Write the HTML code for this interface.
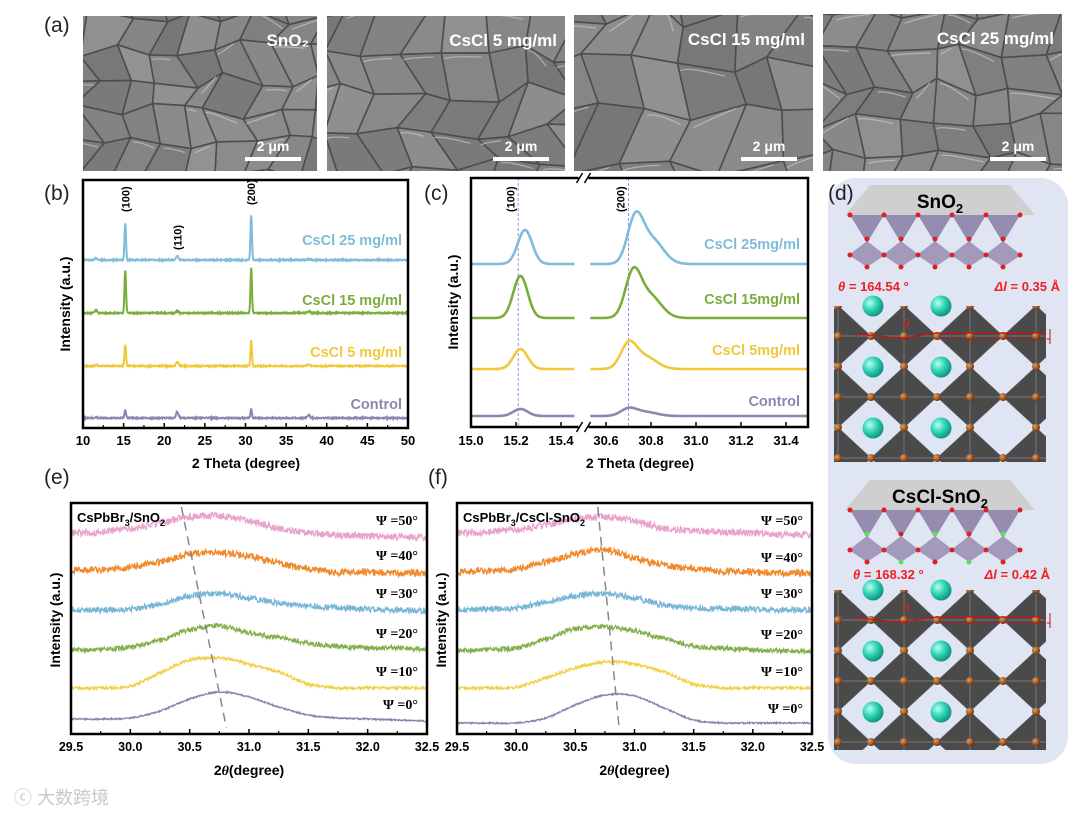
<!DOCTYPE html>
<html><head><meta charset="utf-8">
<style>
body{margin:0;background:#fff;}
svg{display:block;font-family:"Liberation Sans",Arial,sans-serif;}
</style></head>
<body>
<svg id="fig" width="1080" height="816" viewBox="0 0 1080 816" xmlns="http://www.w3.org/2000/svg">
<defs>
<radialGradient id="cs" cx="0.35" cy="0.35" r="0.7"><stop offset="0" stop-color="#b8fff0"/><stop offset="0.5" stop-color="#2fd3b4"/><stop offset="1" stop-color="#0c8f78"/></radialGradient>
<radialGradient id="br" cx="0.35" cy="0.35" r="0.7"><stop offset="0" stop-color="#e0a060"/><stop offset="1" stop-color="#6b3008"/></radialGradient>
<linearGradient id="sem" x1="0" y1="0" x2="1" y2="1"><stop offset="0" stop-color="#8e8e8e"/><stop offset="1" stop-color="#7a7a7a"/></linearGradient>
</defs>
<g id="semg"></g>
<g id="plots"></g>
<g id="panelD"></g>
<text x="14" y="804" fill="#c8c8c8" font-size="18" font-family="'Liberation Sans','Noto Sans CJK SC',sans-serif">ⓒ 大数跨境</text>
</svg>
<script>
// ===== Panel (b) data =====
const bPeakPos = [15.2, 21.6, 30.7, 37.8, 11.6];
const bBlue = [37, 4, 45, 1, 2];
const bGreen = [43, 2, 45, 2, 3];
const bYellow = [21, 4, 26, 2, 1];
const bControl = [8, 6, 9, 3, 1];
const bLabels = ["CsCl 25 mg/ml","CsCl 15 mg/ml","CsCl 5 mg/ml","Control"];
const bXTicks = [10,15,20,25,30,35,40,45,50];
// ===== Panel (c) data =====
const cLeftCenter = [15.24, 15.22, 15.22, 15.22];
const cLeftHeight = [34, 42, 20, 7];
const cRightCenter = [30.73, 30.72, 30.70, 30.70];
const cRightHeight = [44, 43, 24, 7];
const cShoulderHeight = [24, 22, 12, 4];
const cLabels = ["CsCl 25mg/ml","CsCl 15mg/ml","CsCl 5mg/ml","Control"];
const cLeftTicks = [15.0,15.2,15.4];
const cRightTicks = [30.6,30.8,31.0,31.2,31.4];
// ===== Panels (e),(f) data: intensity at 0.25° steps 29.5..32.5 =====
const psiX = [29.5,29.75,30.0,30.25,30.5,30.75,31.0,31.25,31.5,31.75,32.0,32.25,32.5];
const psiLabels = ["Ψ =50°","Ψ =40°","Ψ =30°","Ψ =20°","Ψ =10°","Ψ =0°"];
const e50 = [0,1,4,10,16,17,12,5,0,-2,-3,-4,-5];
const e40 = [0,0,3,8,16,17,14,7,1,-2,-2,-3,-3];
const e30 = [0,0,1,6,14,16,12,7,4,2,1,0,-1];
const e20 = [0,1,3,10,20,24,17,12,7,4,2,2,1];
const e10 = [0,0,2,15,28,30,24,16,4,0,0,0,0];
const e0 = [0,0,1,8,20,27,22,12,4,1,0,-1,-2];
const f50 = [0,1,3,8,14,16,12,5,2,1,0,-2,-2];
const f40 = [0,1,3,10,18,22,14,7,3,1,0,-1,-1];
const f30 = [0,1,2,8,14,16,12,5,2,1,1,0,0];
const f20 = [0,2,3,12,22,24,20,12,5,3,1,0,0];
const f10 = [0,0,1,10,20,26,24,16,4,0,0,0,0];
const f0 = [0,0,0,5,18,28,27,15,3,0,0,0,0];
const psiTicks = [29.5,30.0,30.5,31.0,31.5,32.0,32.5];
const eShiftLine = [30.43, 30.81];
const fShiftLine = [30.69, 30.87];

const NS="http://www.w3.org/2000/svg";
function mk(tag, attrs, parent){const e=document.createElementNS(NS,tag);for(const k in attrs)e.setAttribute(k,attrs[k]);(parent||document.getElementById('plots')).appendChild(e);return e;}
function txt(x,y,s,attrs,parent){const t=mk('text',Object.assign({x:x,y:y},attrs||{}),parent);t.textContent=s;return t;}
// deterministic texture jitter (visual only)
function hash(i){let x=Math.sin(i*127.1+311.7)*43758.5453;return x-Math.floor(x);}

const cols=["#7fbcd8","#7aad3c","#f0c93a","#8a87b0"];
const psiCols=["#e9a2c9","#f0892a","#77b6d6","#7fb04a","#f2cf45","#8580ab"];

// ---------- SEM images ----------
const semG=document.getElementById('semg');
const semBoxes=[[83,16,234,155,"SnO₂",32],[327,16,238,155,"CsCl 5 mg/ml",38],[574,15,239,156,"CsCl 15 mg/ml",50],[823,14,239,157,"CsCl 25 mg/ml",36]];
semBoxes.forEach((b,k)=>{
  const g=mk('g',{},semG);
  
  
  const cid='clip'+k;
  const cp=mk('clipPath',{id:cid},g);mk('rect',{x:b[0],y:b[1],width:b[2],height:b[3]},cp);
  mk('rect',{x:b[0],y:b[1],width:b[2],height:b[3],fill:'#858585'},g);
  const gg=mk('g',{'clip-path':'url(#'+cid+')'},g);
  const s=b[5];const pts=[];
  const nx=Math.ceil(b[2]/s)+3, ny=Math.ceil(b[3]/s)+3;
  for(let i=0;i<nx;i++){pts[i]=[];for(let j=0;j<ny;j++){const o=(j%2)*s*0.4;pts[i][j]=[b[0]-s+i*s+o+(hash(k*1000+i*31+j)-0.5)*s*0.55,b[1]-s+j*s+(hash(k*1000+i*17+j*7+5)-0.5)*s*0.55];}}
  for(let i=0;i<nx-1;i++)for(let j=0;j<ny-1;j++){
    const a=pts[i][j],b2=pts[i+1][j],e=pts[i+1][j+1],c=pts[i][j+1];
    const sh=Math.round(118+hash(k*333+i*7+j*11)*28);
    mk('polygon',{points:`${a[0]},${a[1]} ${b2[0]},${b2[1]} ${e[0]},${e[1]} ${c[0]},${c[1]}`,fill:`rgb(${sh},${sh},${sh})`,stroke:'#4d4d4d','stroke-width':1.6,'stroke-linejoin':'round'},gg);
    if(hash(k*77+i*13+j*3)>0.55){mk('path',{d:`M${a[0]+3},${a[1]+s*0.15} Q${a[0]+s*0.2},${a[1]+3} ${b2[0]-s*0.2},${b2[1]+4}`,stroke:'#cfcfcf','stroke-width':1.3,fill:'none',opacity:0.6},gg);}
  }
  const lab=txt(b[0]+b[2]-8,b[1]+30,b[4],{'text-anchor':'end','font-size':17,'font-weight':'bold',fill:'#fff'},g);
  
  
  mk('rect',{x:b[0]+b[2]-72,y:b[1]+b[3]-14,width:56,height:4,fill:'#fff'},g);
  txt(b[0]+b[2]-44,b[1]+b[3]-20,"2 μm",{'text-anchor':'middle','font-size':14,'font-weight':'bold',fill:'#fff'},g);
});
txt(44,32,"(a)",{'font-size':21,fill:'#222'});

function frame(x0,y0,x1,y1){mk('rect',{x:x0,y:y0,width:x1-x0,height:y1-y0,fill:'none',stroke:'#000','stroke-width':2.5});}

// ---------- Panel (b) ----------
(function(){
  const X0=83,X1=408,Y0=180,Y1=428;
  const sx=v=>X0+(v-10)/40*(X1-X0);
  const base=[260,313,366,418];
  const series=[bBlue,bGreen,bYellow,bControl];
  series.forEach((h,si)=>{
    let d='';
    for(let v=10;v<=50.001;v+=0.05){
      let y=0;bPeakPos.forEach((p,pi)=>{const s=pi==0||pi==2?0.09:0.14;y+=h[pi]*Math.exp(-((v-p)**2)/(2*s*s));});
      y+=(hash(si*5000+Math.round(v*20))-0.5)*1.2;
      d+=(d?'L':'M')+sx(v).toFixed(1)+','+(base[si]-y).toFixed(1);
    }
    const p=mk('path',{d:d,fill:'none',stroke:cols[si],'stroke-width':2});
    
    
    const t=txt(402,base[si]-[15,8,9,9][si],bLabels[si],{'text-anchor':'end','font-size':14.5,'font-weight':'bold',fill:cols[si]});
    
    
  });
  frame(X0,Y0,X1,Y1);
  bXTicks.forEach(v=>{mk('line',{x1:sx(v),x2:sx(v),y1:Y1,y2:Y1-5,stroke:'#000','stroke-width':1.5});txt(sx(v),445,String(v),{'text-anchor':'middle','font-size':13,'font-weight':'bold'});
    if(v<50)mk('line',{x1:sx(v+2.5),x2:sx(v+2.5),y1:Y1,y2:Y1-3,stroke:'#000','stroke-width':1.2});});
  const hk=[["(100)",15.2,212],["(110)",21.6,250],["(200)",30.7,205]];
  hk.forEach(h=>txt(0,0,h[0],{'font-size':11,'font-weight':'bold',transform:`translate(${sx(h[1])+4},${h[2]}) rotate(-90)`}));
  txt(246,468,"2 Theta (degree)",{'text-anchor':'middle','font-size':14,'font-weight':'bold'});
  txt(0,0,"Intensity (a.u.)",{'text-anchor':'middle','font-size':14,'font-weight':'bold',transform:'translate(70,304) rotate(-90)'});
  txt(44,200,"(b)",{'font-size':21,fill:'#222'});
})();

// ---------- Panel (c) ----------
(function(){
  const X0=471,X1=808,Y0=178,Y1=427,BR=583.5,K=225;
  const sxL=v=>X0+(v-15.0)*K, sxR=v=>BR+(v-30.5)*K;
  const base=[264,318,369,416];
  mk('line',{x1:sxL(15.21),x2:sxL(15.21),y1:Y0,y2:Y1,stroke:'#9b8df0','stroke-width':1,'stroke-dasharray':'3,2'});
  mk('line',{x1:sxR(30.70),x2:sxR(30.70),y1:Y0,y2:Y1,stroke:'#9b8df0','stroke-width':1,'stroke-dasharray':'3,2'});
  for(let si=0;si<4;si++){
    let d='';
    for(let v=15.0;v<=15.46;v+=0.004){const s=0.032;const y=cLeftHeight[si]*Math.exp(-((v-cLeftCenter[si])**2)/(2*s*s));d+=(d?'L':'M')+sxL(v).toFixed(1)+','+(base[si]-y).toFixed(1);}
    let d2='';
    for(let v=30.53;v<=31.5;v+=0.004){const y=cRightHeight[si]*Math.exp(-((v-cRightCenter[si])**2)/(2*0.035*0.035))+cShoulderHeight[si]*Math.exp(-((v-(cRightCenter[si]+0.075))**2)/(2*0.05*0.05));d2+=(d2?'L':'M')+sxR(v).toFixed(1)+','+(base[si]-y).toFixed(1);}
    const p=mk('path',{d:d+d2,fill:'none',stroke:cols[si],'stroke-width':2.6});
    
    
    const t=txt(800,base[si]-[15,14,14,10][si],cLabels[si],{'text-anchor':'end','font-size':14.5,'font-weight':'bold',fill:cols[si]});
    
    
  }
  frame(X0,Y0,X1,Y1);
  mk('rect',{x:BR-5,y:Y0-3,width:10,height:6,fill:'#fff'});mk('rect',{x:BR-5,y:Y1-3,width:10,height:6,fill:'#fff'});
  [Y0,Y1].forEach(y=>{mk('line',{x1:BR-7,y1:y+5,x2:BR-1,y2:y-5,stroke:'#000','stroke-width':1.5});mk('line',{x1:BR+1,y1:y+5,x2:BR+7,y2:y-5,stroke:'#000','stroke-width':1.5});});
  cLeftTicks.forEach(v=>{mk('line',{x1:sxL(v),x2:sxL(v),y1:Y1,y2:Y1-5,stroke:'#000','stroke-width':1.5});txt(sxL(v),445,v.toFixed(1),{'text-anchor':'middle','font-size':13,'font-weight':'bold'});});
  cRightTicks.forEach(v=>{mk('line',{x1:sxR(v),x2:sxR(v),y1:Y1,y2:Y1-5,stroke:'#000','stroke-width':1.5});txt(sxR(v),445,v.toFixed(1),{'text-anchor':'middle','font-size':13,'font-weight':'bold'});});
  txt(0,0,"(100)",{'font-size':11,'font-weight':'bold',transform:`translate(${sxL(15.21)-4},212) rotate(-90)`});
  txt(0,0,"(200)",{'font-size':11,'font-weight':'bold',transform:`translate(${sxR(30.70)-4},212) rotate(-90)`});
  txt(640,468,"2 Theta (degree)",{'text-anchor':'middle','font-size':14,'font-weight':'bold'});
  txt(0,0,"Intensity (a.u.)",{'text-anchor':'middle','font-size':14,'font-weight':'bold',transform:'translate(458,302) rotate(-90)'});
  txt(424,200,"(c)",{'font-size':21,fill:'#222'});
})();

// ---------- Panels (e),(f) ----------
function cr(arr,v){
  let i=Math.min(11,Math.floor((v-29.5)/0.25));const t=(v-psiX[i])/0.25;
  const p0=arr[Math.max(0,i-1)],p1=arr[i],p2=arr[i+1],p3=arr[Math.min(12,i+2)];
  return 0.5*((2*p1)+(-p0+p2)*t+(2*p0-5*p1+4*p2-p3)*t*t+(-p0+3*p1-3*p2+p3)*t*t*t);
}
function psiPanel(X0,X1,Y0,Y1,base,series,noiseAmp,title,shift,tag,ytX,labelX){
  const sx=v=>X0+(v-29.5)/3*(X1-X0);
  series.forEach((arr,si)=>{
    let d='';
    for(let v=29.5;v<=32.5001;v+=0.004){
      let y=cr(arr,Math.min(v,32.4999));
      y+=(hash(tag.length*9999+si*3000+Math.round(v*250))-0.5)*noiseAmp[si];
      d+=(d?'L':'M')+sx(v).toFixed(1)+','+(base[si]-y).toFixed(1);
    }
    const p=mk('path',{d:d,fill:'none',stroke:psiCols[si],'stroke-width':1.2});
    
    
    const t=txt(labelX,base[si]-[8,10,12,12,12,10][si],psiLabels[si],{'text-anchor':'end','font-size':14,'font-weight':'bold','font-family':"'Liberation Serif',serif"});
    
    
  });
  mk('line',{x1:sx(shift[0]),y1:Y0+4,x2:sx(shift[1]),y2:Y1-6,stroke:'#888','stroke-width':1.5,'stroke-dasharray':'9,6'});
  frame(X0,Y0,X1,Y1);
  psiTicks.forEach(v=>{mk('line',{x1:sx(v),x2:sx(v),y1:Y1,y2:Y1-5,stroke:'#000','stroke-width':1.5});txt(sx(v),751,v.toFixed(1),{'text-anchor':'middle','font-size':12.5,'font-weight':'bold'});
    if(v<32.5)mk('line',{x1:sx(v+0.25),x2:sx(v+0.25),y1:Y1,y2:Y1-3,stroke:'#000','stroke-width':1.2});});
  const tt=txt(X0+6,Y0+19,'',{'font-size':13,'font-weight':'bold'});
  tt.innerHTML=title;
  const xt=txt((X0+X1)/2,775,'',{'text-anchor':'middle','font-size':14,'font-weight':'bold'});
  xt.innerHTML='2<tspan font-style="italic" font-family="Liberation Serif">θ</tspan>(degree)';
  
  
  const yt=txt(0,0,"Intensity (a.u.)",{'text-anchor':'middle','font-size':14,'font-weight':'bold',transform:`translate(${ytX},620) rotate(-90)`});
  
  
}
psiPanel(71,427,503,734,[533,570,610,650,688,719],[e50,e40,e30,e20,e10,e0],[7,7,6,5,3,1.5],'CsPbBr<tspan font-size="9" dy="4">3</tspan><tspan dy="-4">/SnO</tspan><tspan font-size="9" dy="4">2</tspan>',eShiftLine,'e',60,418);
psiPanel(457,812,503,734,[533,572,610,651,688,723],[f50,f40,f30,f20,f10,f0],[7,7,6,5,3,1.5],'CsPbBr<tspan font-size="9" dy="4">3</tspan><tspan dy="-4">/CsCl-SnO</tspan><tspan font-size="9" dy="4">2</tspan>',fShiftLine,'f',446,803);
txt(44,484,"(e)",{'font-size':21,fill:'#222'});
txt(428,484,"(f)",{'font-size':21,fill:'#222'});

// ---------- Panel (d) ----------
(function(){
  const P=document.getElementById('panelD');
  const bg=mk('rect',{x:828,y:178,width:240,height:586,rx:28,fill:'#dfe5f3'},P);
  
  
  txt(828,200,"(d)",{'font-size':21,fill:'#222'},P);
  function sno2(yTop,label,cl){
    mk('polygon',{points:`${870},${yTop} ${1010},${yTop} ${1035},${yTop+30} ${845},${yTop+30}`,fill:'#cfcfcf'},P);
    const t=txt(940,yTop+23,'',{'text-anchor':'middle','font-size':19,'font-weight':'bold'},P);t.innerHTML=label;
    const y1=yTop+30,y2=yTop+58,y3=yTop+82;
    for(let i=0;i<5;i++){const cx=867+i*34;
      mk('polygon',{points:`${cx-17},${y1} ${cx+17},${y1} ${cx},${y2}`,fill:'#8d82a8',opacity:0.9},P);
      mk('polygon',{points:`${cx},${y2-2} ${cx+18},${y2+12} ${cx},${y3} ${cx-18},${y2+12}`,fill:'#9b90b5',opacity:0.9},P);
    }
    for(let i=0;i<6;i++){const cx=850+i*34;mk('circle',{cx:cx,cy:y1,r:2.5,fill:'#e02020'},P);mk('circle',{cx:cx,cy:y2+12,r:2.5,fill:'#e02020'},P);}
    for(let i=0;i<5;i++){const cx=867+i*34;mk('circle',{cx:cx,cy:y2-4,r:2.5,fill:cl&&i%2==0?'#5be05b':'#e02020'},P);mk('circle',{cx:cx,cy:y3,r:2.5,fill:cl&&i%2==1?'#5be05b':'#e02020'},P);}
  }
  function perov(y0,yb,cid){
    const cp=mk('clipPath',{id:cid},P);mk('rect',{x:834,y:y0,width:212,height:yb-y0},cp);
    const g=mk('g',{'clip-path':'url(#'+cid+')'},P);
    const dx=66,dy=61;
    for(let i=-1;i<5;i++)for(let j=0;j<4;j++){
      const X=838+i*dx, Y=y0+30+j*dy;
      mk('polygon',{points:`${X},${Y-dy/2} ${X+dx/2},${Y} ${X},${Y+dy/2} ${X-dx/2},${Y}`,fill:'#4a4a4a',stroke:'#666','stroke-width':0.6},g);
    }
    for(let i=-1;i<5;i++)for(let j=0;j<4;j++){const X=838+i*dx,Y=y0+30+j*dy;
      mk('line',{x1:X-dx/2,y1:Y,x2:X+dx/2,y2:Y,stroke:'#888','stroke-width':0.7},g);
      mk('line',{x1:X,y1:Y-dy/2,x2:X,y2:Y+dy/2,stroke:'#888','stroke-width':0.7},g);
    }
    for(let i=-1;i<5;i++)for(let j=0;j<4;j++){const X=838+i*dx,Y=y0+30+j*dy;
      [[X,Y],[X+dx/2,Y],[X,Y-dy/2]].forEach(p=>mk('circle',{cx:p[0],cy:p[1],r:4,fill:'url(#br)'},g));
    }
    for(let i=0;i<2;i++)for(let j=0;j<3;j++){const X=838+(i+1)*dx-dx/2+2,Y=y0+j*dy;mk('circle',{cx:X+i*2,cy:Y,r:10.5,fill:'url(#cs)'},P);}
    mk('path',{d:`M855,${y0+28} L903,${y0+32} L937,${y0+27} L1045,${y0+27}`,stroke:'#d01010','stroke-width':1.2,fill:'none'},P);
    mk('line',{x1:937,y1:y0+33,x2:1050,y2:y0+33,stroke:'#d01010','stroke-width':1,'stroke-dasharray':'3,2'},P);
    mk('line',{x1:1050,y1:y0+23,x2:1050,y2:y0+38,stroke:'#d01010','stroke-width':1},P);
    txt(903,y0+22,'θ',{'font-size':13,'font-style':'italic',fill:'#e02020','font-family':"'Liberation Serif',serif"},P);
  }
  sno2(185,'SnO<tspan font-size="13" dy="5">2</tspan>',false);
  const l1=txt(838,291,'',{'font-size':13,'font-weight':'bold',fill:'#f02020'},P);l1.innerHTML='<tspan font-style="italic">θ</tspan> = 164.54 °';
  const l2=txt(1060,291,'',{'text-anchor':'end','font-size':13,'font-weight':'bold',fill:'#f02020'},P);l2.innerHTML='<tspan font-style="italic">Δl</tspan> = 0.35 Å';
  perov(306,462,'pv1');
  sno2(480,'CsCl-SnO<tspan font-size="13" dy="5">2</tspan>',true);
  const l3=txt(853,579,'',{'font-size':13,'font-weight':'bold',fill:'#f02020'},P);l3.innerHTML='<tspan font-style="italic">θ</tspan> = 168.32 °';
  const l4=txt(1050,579,'',{'text-anchor':'end','font-size':13,'font-weight':'bold',fill:'#f02020'},P);l4.innerHTML='<tspan font-style="italic">Δl</tspan> = 0.42 Å';
  perov(590,750,'pv2');
})();
</script>
</body></html>
